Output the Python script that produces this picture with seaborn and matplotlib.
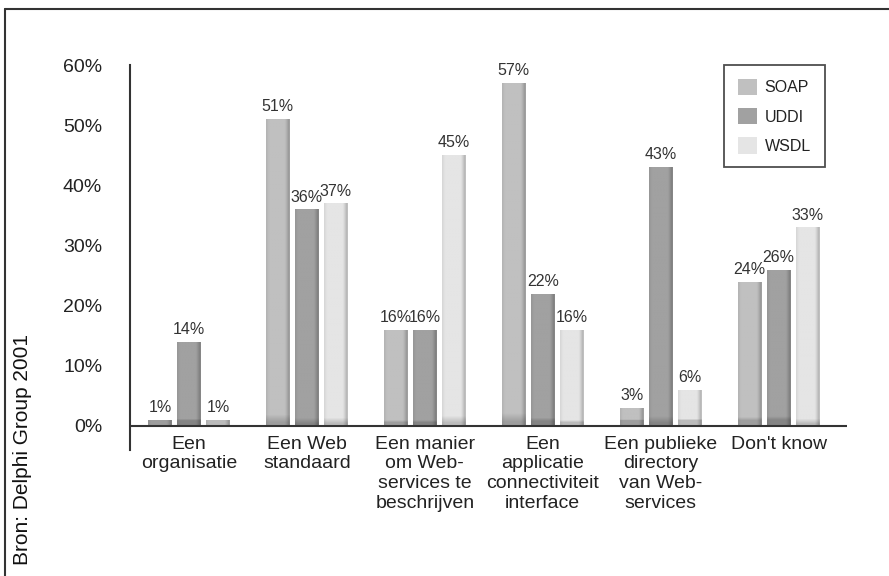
import numpy as np
import pandas as pd
import matplotlib
matplotlib.use("Agg")
import matplotlib.pyplot as plt
import matplotlib.colors as mcolors
import matplotlib.transforms as mtrans
from matplotlib.patches import Patch
import seaborn as sns

categories = ["Een\norganisatie", "Een Web\nstandaard", "Een manier\nom Web-\nservices te\nbeschrijven",
              "Een\napplicatie\nconnectiviteit\ninterface", "Een publieke\ndirectory\nvan Web-\nservices",
              "Don't know"]
series = ["SOAP", "UDDI", "WSDL"]
soap = [1, 51, 16, 57, 3, 24]
uddi = [14, 36, 16, 22, 43, 26]
wsdl = [1, 37, 45, 16, 6, 33]
yticks = [0, 10, 20, 30, 40, 50, 60]
ytick_labels = ["0%", "10%", "20%", "30%", "40%", "50%", "60%"]
source = "Bron: Delphi Group 2001"

colors = {"SOAP": "#c0c0c0", "UDDI": "#a1a1a1", "WSDL": "#e5e5e5"}

df = pd.DataFrame({
    "cat": np.repeat(categories, 3),
    "series": series * len(categories),
    "value": [v for trio in zip(soap, uddi, wsdl) for v in trio],
})

sns.set_style("white")
plt.rcParams["font.family"] = ["Liberation Sans", "DejaVu Sans"]

fig = plt.figure(figsize=(8.89, 5.76), dpi=100)
ax = fig.add_axes([130 / 889, 126 / 576, 717 / 889, 385 / 576])

sns.barplot(data=df, x="cat", y="value", hue="series", hue_order=series,
            palette=colors, width=0.74, gap=0.175, ax=ax, legend=False,
            linewidth=0, saturation=1)

ax.set_ylim(-4, 60)
ax.set_xlim(-0.5, 5.58)

def shade(base, n=64):
    c = np.array(mcolors.to_rgb(base))
    xs = np.linspace(0, 1, n)
    f = np.ones(n)
    f = np.where(xs < 0.12, 0.93 + 0.07 * xs / 0.12, f)
    f = np.where(xs > 0.78, 1 - 0.28 * ((xs - 0.78) / 0.22) ** 1.3, f)
    f = np.where(xs > 0.97, 0.86, f)
    return np.clip(c[None, :] * f[:, None], 0, 1)

for p in list(ax.patches):
    x0, y0 = p.get_x(), p.get_y()
    w, h = p.get_width(), p.get_height()
    if h <= 0:
        continue
    row = shade(p.get_facecolor())
    ny = 40
    img = np.repeat(row[None, :, :], ny, axis=0)
    hpx = h * 385 / 64
    band = max(1, int(round(ny * 6 / max(hpx, 6))))
    img[-band:] *= 0.82
    im = ax.imshow(img, extent=[x0, x0 + w, y0, y0 + h], aspect="auto",
                   interpolation="bilinear", zorder=p.get_zorder() + 0.1)
    im.set_clip_path(p)
    ax.text(x0 + w / 2, y0 + h + 0.8, f"{int(h)}%", ha="center", va="bottom",
            fontsize=11.5, color="#333333")

ax.set_xlabel("")
ax.set_ylabel("")
ax.set_yticks(yticks)
ax.set_yticklabels(ytick_labels, fontsize=14, color="#222222")
ax.tick_params(axis="y", length=13, width=1.5, color="#333333", pad=7, direction="out")
ax.tick_params(axis="x", length=0, pad=7, labelsize=14, labelcolor="#222222")
for lab in ax.get_xticklabels():
    lab.set_linespacing(1.2)
    lab.set_va("top")

for s in ["top", "right", "bottom"]:
    ax.spines[s].set_visible(False)
ax.spines["left"].set_color("#333333")
ax.spines["left"].set_linewidth(1.5)
ax.axhline(0, color="#333333", lw=1.5, zorder=5)

offset = mtrans.ScaledTranslation(0, 24 / 100, fig.dpi_scale_trans)
for lab in ax.get_xticklabels():
    lab.set_transform(lab.get_transform() + offset)

handles = [Patch(facecolor=colors[s], edgecolor="none", label=s) for s in series]
leg = ax.legend(handles=handles, loc="upper left", bbox_to_anchor=(594 / 717, 1.0),
                frameon=True, fontsize=11.5, handlelength=1.2, handleheight=1.2,
                labelspacing=0.8, borderpad=0.85, handletextpad=0.5, fancybox=False,
                borderaxespad=0)
leg.get_frame().set_edgecolor("#222222")
leg.get_frame().set_linewidth(1.3)
for t in leg.get_texts():
    t.set_color("#222222")

fig.text(13 / 889, 1 - 565 / 576, source, rotation=90, ha="left", va="bottom",
         fontsize=15, color="#111111")

fig.add_artist(plt.Line2D([5 / 889, 1.01], [1 - 9 / 576] * 2, transform=fig.transFigure,
                          color="#333333", lw=1.5))
fig.add_artist(plt.Line2D([5 / 889] * 2, [-0.01, 1 - 9 / 576], transform=fig.transFigure,
                          color="#333333", lw=1.5))

fig.savefig("out.png", dpi=100)
